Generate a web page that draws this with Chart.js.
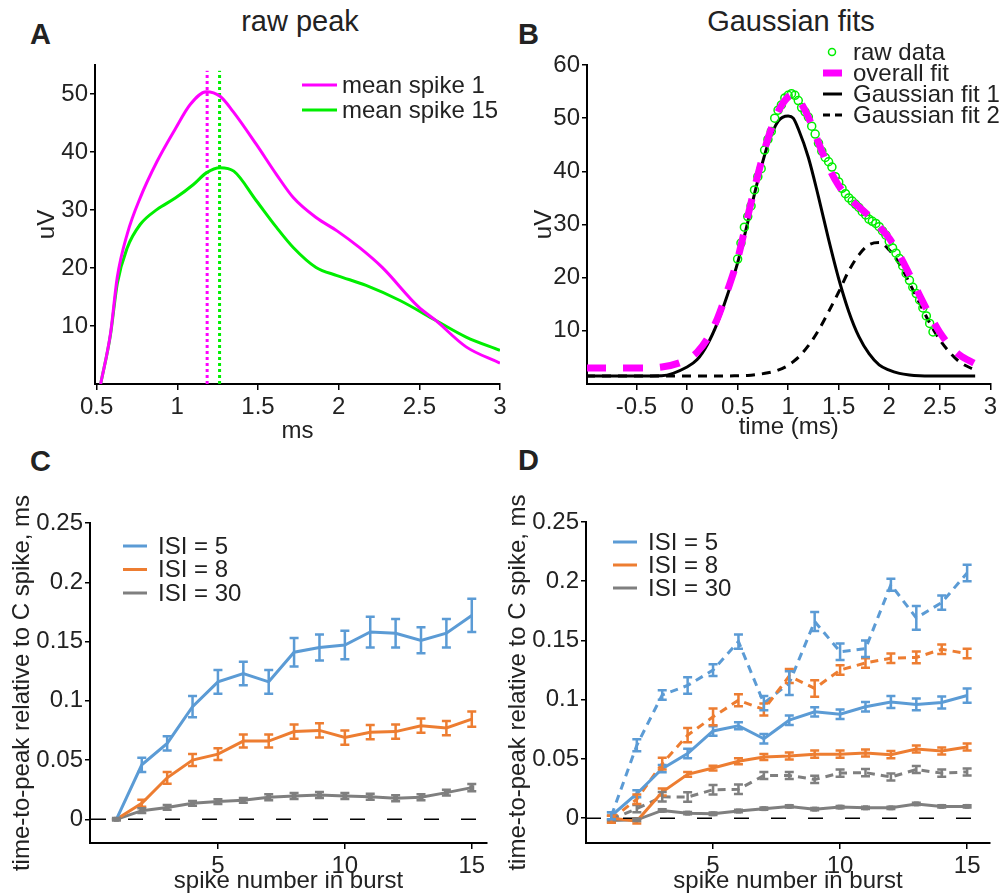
<!DOCTYPE html>
<html>
<head>
<meta charset="utf-8">
<script src="https://cdn.jsdelivr.net/npm/chart.js@4.4.1/dist/chart.umd.min.js"></script>
<style>
  body { margin: 0; background: #fff; width: 1000px; height: 896px; position: relative; overflow: hidden;
         font-family: "Liberation Sans", Arial, sans-serif; color: #222; }
  .box { position: absolute; }
  .letter { position: absolute; font-weight: bold; font-size: 29px; line-height: 29px; }
  .title { position: absolute; font-size: 29px; line-height: 29px; white-space: nowrap; transform: translateX(-50%); }
</style>
</head>
<body>
<div class="letter" style="left:30px;top:20px">A</div>
<div class="letter" style="left:518px;top:20px">B</div>
<div class="letter" style="left:30px;top:447px">C</div>
<div class="letter" style="left:518px;top:446px">D</div>
<div class="title" style="left:300px;top:7px">raw peak</div>
<div class="title" style="left:791px;top:7px">Gaussian fits</div>

<div class="box" style="left:0;top:0;width:530px;height:450px"><canvas id="chartA"></canvas></div>
<div class="box" style="left:500px;top:0;width:500px;height:450px"><canvas id="chartB"></canvas></div>
<div class="box" style="left:0;top:450px;width:500px;height:446px"><canvas id="chartC"></canvas></div>
<div class="box" style="left:500px;top:450px;width:500px;height:446px"><canvas id="chartD"></canvas></div>

<script>
// ---- A: raw peak (ms, uV)
const spike1X = [0.525, 0.586, 0.628, 0.69, 0.77, 0.875, 0.99, 1.08, 1.18, 1.265, 1.345, 1.49, 1.615, 1.72, 1.86, 1.99, 2.13, 2.27, 2.495, 2.6, 2.79, 3.0];
const spike1Y = [0, 8.7, 18.4, 25.9, 32.1, 38.4, 44.1, 48.2, 50.4, 49.6, 47, 41.3, 36.1, 32.1, 28.7, 26.4, 23.5, 20.1, 13.3, 11, 6.4, 3.6];
const spike15X = [0.525, 0.586, 0.628, 0.69, 0.77, 0.875, 0.99, 1.10, 1.18, 1.265, 1.35, 1.49, 1.615, 1.72, 1.86, 1.99, 2.17, 2.38, 2.6, 2.79, 3.0];
const spike15Y = [0, 8.5, 17.3, 23.5, 27.5, 30.1, 32.1, 34.4, 36.4, 37.3, 36.7, 31.6, 27.0, 23.5, 20.1, 18.7, 17.0, 14.4, 11, 8.1, 5.8];
const peakTimes = [1.185, 1.262];   // spike 1, spike 15
const peakLineTop = 54;
const ticksAx = [0.5, 1, 1.5, 2, 2.5, 3];
const ticksAy = [10, 20, 30, 40, 50];

// ---- B: Gaussian fits (time ms, uV)
const fitX = [-1, -0.5, -0.25, 0, 0.1, 0.2, 0.3, 0.4, 0.5, 0.6, 0.7, 0.8, 0.9, 1.0, 1.05, 1.1, 1.2, 1.3, 1.4, 1.5, 1.6, 1.7, 1.8, 1.9, 2.0, 2.1, 2.2, 2.3, 2.4, 2.5, 2.6, 2.7, 2.85];
const overallFit = [3.0, 3.0, 3.2, 4.6, 6.0, 8.5, 12.3, 17.6, 23.5, 31.5, 39.3, 46.2, 51.2, 54.0, 54.4, 53.6, 50.2, 45.4, 40.8, 37.3, 35.0, 33.3, 31.6, 29.6, 27.4, 24.3, 20.6, 16.7, 13.0, 9.7, 7.2, 5.4, 3.8];
const gaussFit1 = [1.5, 1.5, 1.55, 3.2, 4.6, 7.4, 11.5, 16.8, 22.8, 30.4, 38.3, 45.1, 49.4, 50.4, 50.0, 48.0, 42.6, 35.2, 27.2, 19.8, 13.6, 8.9, 5.7, 3.6, 2.6, 2.0, 1.7, 1.55, 1.5, 1.5, 1.5, 1.5, 1.5];
const gaussFit2 = [1.5, 1.5, 1.5, 1.5, 1.5, 1.5, 1.5, 1.5, 1.55, 1.6, 1.8, 2.1, 2.6, 3.5, 4.2, 5.0, 7.2, 10.1, 13.6, 17.3, 21.3, 24.3, 26.2, 26.6, 25.2, 22.6, 19.0, 15.2, 11.5, 8.3, 5.9, 4.1, 2.6];
const rawX = [0.5, 0.533, 0.567, 0.6, 0.633, 0.667, 0.7, 0.733, 0.767, 0.8, 0.833, 0.867, 0.9, 0.933, 0.967,
              1.0, 1.033, 1.067, 1.1, 1.133, 1.167, 1.2, 1.233, 1.267, 1.3, 1.333, 1.367, 1.4, 1.433, 1.467,
              1.5, 1.533, 1.567, 1.6, 1.633, 1.667, 1.7, 1.733, 1.767, 1.8, 1.833, 1.867, 1.9, 1.933, 1.967,
              2.0, 2.033, 2.067, 2.1, 2.133, 2.167, 2.2, 2.233, 2.267, 2.3, 2.333, 2.367, 2.4, 2.433];
const rawY = [23.5, 26.5, 29.5, 31.5, 33.5, 36.5, 39.0, 40.5, 44.0, 46.0, 47.5, 50.0, 51.5, 52.5, 53.8,
              54.3, 54.6, 54.3, 53.3, 52.0, 51.2, 50.2, 48.5, 47.0, 45.3, 43.8, 42.6, 41.8, 40.8, 39.0,
              38.0, 36.8, 35.8, 35.0, 34.4, 33.8, 33.2, 32.4, 31.8, 31.0, 30.6, 30.2, 29.6, 28.8, 28.0,
              26.8, 25.6, 24.6, 23.6, 22.2, 20.8, 19.5, 18.2, 17.0, 15.8, 14.3, 12.8, 11.4, 9.8];
const ticksBx = [-0.5, 0, 0.5, 1, 1.5, 2, 2.5, 3];
const ticksBy = [10, 20, 30, 40, 50, 60];

// ---- C, D: time-to-peak relative to C spike (ms) vs spike number
const spikeNum = [1, 2, 3, 4, 5, 6, 7, 8, 9, 10, 11, 12, 13, 14, 15];
const cIsi5 = [0, 0.046, 0.064, 0.095, 0.116, 0.123, 0.116, 0.141, 0.145, 0.147, 0.158, 0.157, 0.151, 0.157, 0.172];
const cIsi5Err = [0, 0.006, 0.006, 0.009, 0.010, 0.010, 0.010, 0.012, 0.011, 0.012, 0.013, 0.012, 0.011, 0.012, 0.014];
const cIsi8 = [0, 0.0135, 0.035, 0.050, 0.055, 0.066, 0.066, 0.074, 0.075, 0.069, 0.0735, 0.074, 0.079, 0.077, 0.0845];
const cIsi8Err = [0, 0.003, 0.005, 0.005, 0.005, 0.0055, 0.0055, 0.006, 0.006, 0.006, 0.006, 0.006, 0.006, 0.006, 0.0065];
const cIsi30 = [0, 0.0073, 0.010, 0.0135, 0.015, 0.016, 0.0186, 0.0197, 0.0205, 0.0197, 0.019, 0.0177, 0.0186, 0.0225, 0.0267];
const cIsi30Err = [0.001, 0.002, 0.002, 0.002, 0.002, 0.002, 0.0025, 0.0025, 0.0025, 0.0025, 0.0025, 0.0025, 0.0025, 0.0025, 0.003];

const dIsi5 = [0.002, 0.0206, 0.0418, 0.0545, 0.0736, 0.078, 0.067, 0.0827, 0.0897, 0.0877, 0.094, 0.098, 0.096, 0.0976, 0.1035];
const dIsi5Err = [0.003, 0.003, 0.003, 0.004, 0.004, 0.003, 0.004, 0.004, 0.004, 0.004, 0.004, 0.005, 0.005, 0.005, 0.006];
const dIsi8 = [0, -0.0025, 0.022, 0.037, 0.0423, 0.048, 0.0516, 0.0525, 0.054, 0.054, 0.055, 0.0536, 0.0584, 0.0567, 0.060];
const dIsi8Err = [0.002, 0.002, 0.003, 0.002, 0.002, 0.0025, 0.0025, 0.003, 0.003, 0.003, 0.003, 0.003, 0.003, 0.003, 0.003];
const dIsi30 = [-0.002, -0.0014, 0.0065, 0.0042, 0.0037, 0.006, 0.008, 0.0099, 0.0076, 0.0093, 0.0087, 0.0087, 0.012, 0.0099, 0.0099];
const dIsi30Err = [0.001, 0.001, 0.001, 0.001, 0.001, 0.001, 0.001, 0.001, 0.001, 0.001, 0.001, 0.001, 0.001, 0.001, 0.001];
const dIsi5Dash = [0.002, 0.0615, 0.104, 0.112, 0.125, 0.149, 0.097, 0.114, 0.166, 0.1405, 0.143, 0.197, 0.169, 0.182, 0.207];
const dIsi5DashErr = [0.003, 0.005, 0.004, 0.007, 0.005, 0.006, 0.006, 0.010, 0.008, 0.007, 0.007, 0.005, 0.010, 0.006, 0.007];
const dIsi8Dash = [-0.001, 0.016, 0.046, 0.070, 0.0855, 0.0995, 0.0917, 0.120, 0.1095, 0.125, 0.131, 0.135, 0.1357, 0.1425, 0.139];
const dIsi8DashErr = [0.003, 0.004, 0.005, 0.006, 0.007, 0.005, 0.005, 0.006, 0.007, 0.004, 0.004, 0.004, 0.005, 0.004, 0.004];
const dIsi30Dash = [-0.001, 0.008, 0.018, 0.0178, 0.024, 0.0243, 0.036, 0.036, 0.0327, 0.038, 0.0384, 0.0347, 0.041, 0.038, 0.039];
const dIsi30DashErr = [0.003, 0.003, 0.004, 0.004, 0.004, 0.004, 0.003, 0.003, 0.003, 0.003, 0.003, 0.003, 0.003, 0.003, 0.003];
const zeroLineX = [0, 15.45];
const ticksCDx = [5, 10, 15];
const ticksCDy = [0, 0.05, 0.1, 0.15, 0.2, 0.25];

const MAGENTA = '#ff00ff', GREEN = '#00ee00';
const BLUE = '#5b9bd5', ORANGE = '#ed7d31', GRAY = '#7f7f7f';
const FONT = '"Liberation Sans", Arial, sans-serif';
const TEXT = '#222';
const FS = 24;

Chart.defaults.font.family = FONT;
Chart.defaults.font.size = FS;
Chart.defaults.color = TEXT;
Chart.defaults.animation = false;

function pts(xs, ys) {
  return xs.map((x, i) => ({ x: x, y: ys[i] }));
}

// error bars drawn through the y scale
const errorBars = {
  id: 'errorBars',
  afterDatasetsDraw(chart) {
    const ctx = chart.ctx;
    const ys = chart.scales.y;
    chart.data.datasets.forEach((ds, i) => {
      if (!ds.errors) return;
      const meta = chart.getDatasetMeta(i);
      ctx.save();
      ctx.strokeStyle = ds.borderColor;
      ctx.lineWidth = 2.5;
      meta.data.forEach((pt, j) => {
        const v = ds.data[j].y, e = ds.errors[j];
        const top = ys.getPixelForValue(v + e), bot = ys.getPixelForValue(v - e);
        ctx.beginPath();
        ctx.moveTo(pt.x, top); ctx.lineTo(pt.x, bot);
        ctx.moveTo(pt.x - 4.5, top); ctx.lineTo(pt.x + 4.5, top);
        ctx.moveTo(pt.x - 4.5, bot); ctx.lineTo(pt.x + 4.5, bot);
        ctx.stroke();
      });
      ctx.restore();
    });
  }
};

// legend drawn inside the plot
const inlineLegend = {
  id: 'inlineLegend',
  afterDraw(chart, args, opts) {
    if (opts.x == null) return;
    const ctx = chart.ctx;
    ctx.save();
    ctx.font = FS + 'px ' + FONT;
    ctx.textBaseline = 'middle';
    let k = 0;
    chart.data.datasets.forEach(ds => {
      if (!ds.inLegend) return;
      const y = opts.y + k * opts.rowH;
      ctx.beginPath();
      ctx.strokeStyle = ds.borderColor;
      ctx.lineWidth = ds.borderWidth;
      ctx.moveTo(opts.x, y); ctx.lineTo(opts.x + opts.len, y);
      ctx.stroke();
      ctx.fillStyle = TEXT;
      ctx.fillText(ds.label, opts.textX, y + 1);
      k++;
    });
    ctx.restore();
  }
};

function xAxis(min, max, ticks, title, h) {
  return {
    type: 'linear', min: min, max: max,
    afterBuildTicks: s => { s.ticks = ticks.map(v => ({ value: v })); },
    afterFit: s => { s.height = h; },
    grid: { drawOnChartArea: false, drawTicks: true, tickLength: 6, color: '#000', lineWidth: 1.5 },
    border: { color: '#000', width: 2 },
    ticks: { padding: 3, autoSkip: false, maxRotation: 0, color: TEXT, callback: v => String(v) },
    title: { display: true, text: title, color: TEXT, padding: { top: 0, bottom: 0 } }
  };
}
function yAxis(min, max, ticks, title, w) {
  return {
    type: 'linear', min: min, max: max,
    afterBuildTicks: s => { s.ticks = ticks.map(v => ({ value: v })); },
    afterFit: s => { s.width = w; },
    grid: { drawOnChartArea: false, drawTicks: true, tickLength: 5, color: '#000', lineWidth: 1.5 },
    border: { color: '#000', width: 2 },
    ticks: { padding: 2, autoSkip: false, color: TEXT, callback: v => String(v) },
    title: { display: true, text: title, color: TEXT, padding: { top: 0, bottom: 0 } }
  };
}
function baseOptions(pad, legend) {
  return {
    responsive: true, maintainAspectRatio: false,
    layout: { padding: pad },
    plugins: { legend: { display: false }, tooltip: { enabled: false }, inlineLegend: legend },
    elements: { point: { radius: 0 } }
  };
}

// ---- Panel A
const optA = baseOptions({ left: 33, top: 65, right: 30, bottom: 4 }, { x: 302, y: 85, rowH: 25, len: 35, textX: 342 });
optA.scales = { x: xAxis(0.49, 3.0, ticksAx, 'ms', 62), y: yAxis(0, 55, ticksAy, 'uV', 62) };
new Chart(document.getElementById('chartA'), {
  type: 'line',
  data: {
    datasets: [
      { label: 'mean spike 1', data: pts(spike1X, spike1Y), borderColor: MAGENTA, borderWidth: 3, cubicInterpolationMode: 'monotone', inLegend: true },
      { label: 'mean spike 15', data: pts(spike15X, spike15Y), borderColor: GREEN, borderWidth: 3, cubicInterpolationMode: 'monotone', inLegend: true },
      { label: 'peak 1', data: pts([peakTimes[0], peakTimes[0]], [0, peakLineTop]), borderColor: MAGENTA, borderWidth: 3, borderDash: [3, 3] },
      { label: 'peak 15', data: pts([peakTimes[1], peakTimes[1]], [0, peakLineTop]), borderColor: GREEN, borderWidth: 3, borderDash: [3, 3] }
    ]
  },
  options: optA,
  plugins: [inlineLegend]
});

// ---- Panel B
const optB = baseOptions({ left: 30, top: 65, right: 8, bottom: 8 }, {});
optB.scales = { x: xAxis(-0.99, 3.0, ticksBx, 'time (ms)', 58), y: yAxis(0, 60, ticksBy, 'uV', 57) };
new Chart(document.getElementById('chartB'), {
  type: 'line',
  data: {
    datasets: [
      { label: 'Gaussian fit 1', data: pts(fitX, gaussFit1), borderColor: '#000', borderWidth: 3, cubicInterpolationMode: 'monotone', order: 3 },
      { label: 'Gaussian fit 2', data: pts(fitX, gaussFit2), borderColor: '#000', borderWidth: 3, borderDash: [9, 7], cubicInterpolationMode: 'monotone', order: 3 },
      { label: 'raw data', data: pts(rawX, rawY), showLine: false, pointRadius: 4, pointBorderColor: GREEN, pointBackgroundColor: 'rgba(0,0,0,0)', pointBorderWidth: 1.5, borderColor: GREEN, order: 2 },
      { label: 'overall fit', data: pts(fitX, overallFit), borderColor: MAGENTA, borderWidth: 7, borderDash: [20, 17], cubicInterpolationMode: 'monotone', order: 1 }
    ]
  },
  options: optB,
  plugins: [{
    id: 'legendOrderB',
    afterDraw(chart) {
      // legend order: raw data, overall fit, Gaussian fit 1, Gaussian fit 2
      const ctx = chart.ctx, ds = chart.data.datasets;
      const rows = [ds[2], ds[3], ds[0], ds[1]];
      const dashes = [null, [], [], [7, 5]];
      ctx.save();
      ctx.font = FS + 'px ' + FONT;
      ctx.textBaseline = 'middle';
      rows.forEach((d, k) => {
        const y = 52 + k * 21;
        if (k === 0) {
          ctx.beginPath();
          ctx.arc(332, y, 3.5, 0, Math.PI * 2);
          ctx.strokeStyle = GREEN; ctx.lineWidth = 1.5; ctx.stroke();
        } else {
          ctx.beginPath();
          ctx.setLineDash(dashes[k]);
          ctx.strokeStyle = d.borderColor; ctx.lineWidth = d.borderWidth;
          ctx.moveTo(323, y); ctx.lineTo(342, y); ctx.stroke();
          ctx.setLineDash([]);
        }
        ctx.fillStyle = TEXT;
        ctx.fillText(d.label, 353, y + 1);
      });
      ctx.restore();
    }
  }]
});

// ---- Panels C and D
function seriesCD(label, ys, errs, color, dashed, legend) {
  const ds = { label: label, data: pts(spikeNum, ys), errors: errs, borderColor: color, borderWidth: 3, inLegend: legend };
  if (dashed) ds.borderDash = [8, 6];
  if (color === GRAY && !dashed) {
    ds.pointRadius = 3.5; ds.pointStyle = 'rect'; ds.pointBackgroundColor = GRAY; ds.pointBorderWidth = 0;
  }
  return ds;
}
function zeroLine() {
  return { label: 'zero', data: pts(zeroLineX, [0, 0]), borderColor: '#000', borderWidth: 1.5, borderDash: [15, 22] };
}

const optC = baseOptions({ left: 8, top: 73, right: 13, bottom: 0 }, { x: 123, y: 96, rowH: 23.5, len: 24, textX: 158 });
optC.scales = { x: xAxis(-0.04, 15.6, ticksCDx, 'spike number in burst', 53), y: yAxis(-0.02, 0.25, ticksCDy, 'time-to-peak relative to C spike, ms', 82) };
new Chart(document.getElementById('chartC'), {
  type: 'line',
  data: {
    datasets: [
      zeroLine(),
      seriesCD('ISI = 5', cIsi5, cIsi5Err, BLUE, false, true),
      seriesCD('ISI = 8', cIsi8, cIsi8Err, ORANGE, false, true),
      seriesCD('ISI = 30', cIsi30, cIsi30Err, GRAY, false, true)
    ]
  },
  options: optC,
  plugins: [errorBars, inlineLegend]
});

const optD = baseOptions({ left: 4, top: 72, right: 10, bottom: 0 }, { x: 113, y: 92, rowH: 23, len: 24, textX: 148 });
optD.scales = { x: xAxis(0, 15.9, ticksCDx, 'spike number in burst', 53), y: yAxis(-0.021, 0.25, ticksCDy, 'time-to-peak relative to C spike, ms', 82) };
new Chart(document.getElementById('chartD'), {
  type: 'line',
  data: {
    datasets: [
      zeroLine(),
      seriesCD('ISI = 5', dIsi5, dIsi5Err, BLUE, false, true),
      seriesCD('ISI = 8', dIsi8, dIsi8Err, ORANGE, false, true),
      seriesCD('ISI = 30', dIsi30, dIsi30Err, GRAY, false, true),
      seriesCD('ISI = 30 dashed', dIsi30Dash, dIsi30DashErr, GRAY, true, false),
      seriesCD('ISI = 8 dashed', dIsi8Dash, dIsi8DashErr, ORANGE, true, false),
      seriesCD('ISI = 5 dashed', dIsi5Dash, dIsi5DashErr, BLUE, true, false)
    ]
  },
  options: optD,
  plugins: [errorBars, inlineLegend]
});
</script>
</body>
</html>
